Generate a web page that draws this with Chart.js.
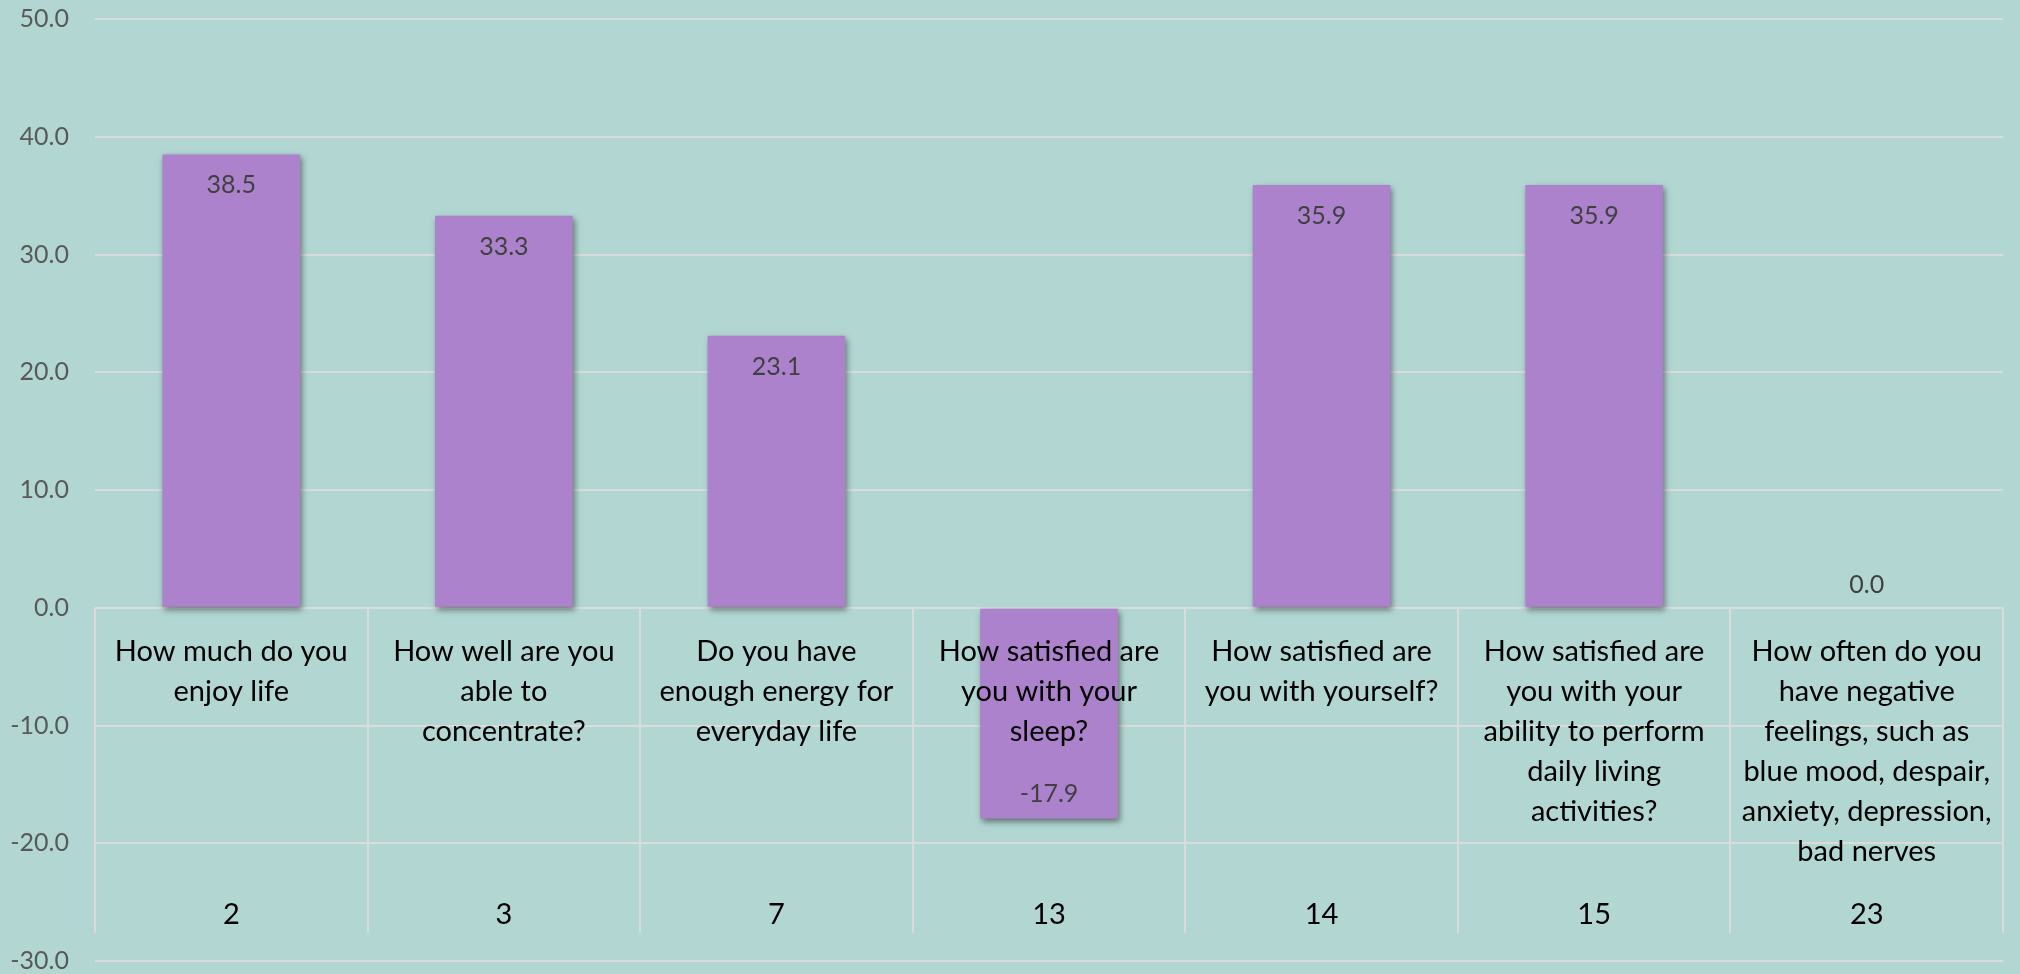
<!DOCTYPE html>
<html>
<head>
<meta charset="utf-8">
<script src="https://cdn.jsdelivr.net/npm/chart.js@4.4.1/dist/chart.umd.min.js"></script>
<style>
  html, body { margin: 0; padding: 0; background: #b2d7d3; }
  #wrap { width: 2020px; height: 974px; }
</style>
</head>
<body>
<div id="wrap"><canvas id="c" width="2020" height="974"></canvas></div>
<script>
// ---- data ----
const codes = ["2", "3", "7", "13", "14", "15", "23"];
const questions = [
  ["How much do you", "enjoy life"],
  ["How well are you", "able to", "concentrate?"],
  ["Do you have", "enough energy for", "everyday life"],
  ["How satisfied are", "you with your", "sleep?"],
  ["How satisfied are", "you with yourself?"],
  ["How satisfied are", "you with your", "ability to perform", "daily living", "activities?"],
  ["How often do you", "have negative", "feelings, such as", "blue mood, despair,", "anxiety, depression,", "bad nerves"]
];
const values = [38.5, 33.3, 23.1, -17.9, 35.9, 35.9, 0.0];
const yMin = -30, yMax = 50, yStep = 10;
const boxBottomValue = -27.6;

// ---- styles ----
const BG = '#b2d7d3';
const BAR = '#ac82cc';
const GRID = '#d9dcdb';
const FONT = 'Lato, "Open Sans", sans-serif';

const bgPlugin = {
  id: 'bg',
  beforeDraw(chart) {
    const ctx = chart.ctx;
    ctx.save();
    ctx.fillStyle = BG;
    ctx.fillRect(0, 0, chart.width, chart.height);
    ctx.restore();
  }
};

const shadowPlugin = {
  id: 'barShadow',
  beforeDatasetDraw(chart) {
    const ctx = chart.ctx;
    ctx.save();
    ctx.shadowColor = 'rgba(40,40,40,0.55)';
    ctx.shadowBlur = 6;
    ctx.shadowOffsetX = 2;
    ctx.shadowOffsetY = 3;
  },
  afterDatasetDraw(chart) {
    chart.ctx.restore();
  }
};

const boxPlugin = {
  id: 'categoryBox',
  beforeDatasetsDraw(chart) {
    const ctx = chart.ctx;
    const xs = chart.scales.x, ys = chart.scales.y;
    const y0 = ys.getPixelForValue(0);
    const yb = ys.getPixelForValue(boxBottomValue);
    const n = codes.length;
    ctx.save();
    ctx.strokeStyle = GRID;
    ctx.lineWidth = 2;
    for (let i = 0; i <= n; i++) {
      let x;
      if (i === 0) x = xs.left;
      else if (i === n) x = xs.right;
      else x = (xs.getPixelForValue(i - 1) + xs.getPixelForValue(i)) / 2;
      x = Math.round(x);
      ctx.beginPath();
      ctx.moveTo(x, y0);
      ctx.lineTo(x, yb);
      ctx.stroke();
    }
    ctx.restore();
  },
  afterDatasetsDraw(chart) {
    const ctx = chart.ctx;
    const xs = chart.scales.x, ys = chart.scales.y;
    const y0 = ys.getPixelForValue(0);
    const yb = ys.getPixelForValue(boxBottomValue);
    ctx.save();
    // data labels
    const meta = chart.getDatasetMeta(0);
    ctx.font = '25px ' + FONT;
    ctx.fillStyle = '#404040';
    ctx.textAlign = 'center';
    ctx.textBaseline = 'middle';
    meta.data.forEach((bar, i) => {
      const v = values[i];
      let y;
      if (v > 0) y = bar.y + 31;
      else if (v < 0) y = bar.y - 25;
      else y = bar.y - 23;
      ctx.fillText(v.toFixed(1), bar.x, y);
    });
    // category labels
    ctx.font = '29px ' + FONT;
    ctx.fillStyle = '#000000';
    questions.forEach((lines, i) => {
      const x = xs.getPixelForValue(i);
      lines.forEach((ln, j) => {
        ctx.fillText(ln, x, y0 + 44 + j * 40);
      });
      ctx.fillText(codes[i], x, yb - 18);
    });
    ctx.restore();
  }
};

new Chart(document.getElementById('c'), {
  type: 'bar',
  data: {
    labels: codes,
    datasets: [{
      data: values,
      backgroundColor: BAR,
      borderWidth: 0,
      barPercentage: 0.505,
      categoryPercentage: 1.0
    }]
  },
  options: {
    responsive: false,
    animation: false,
    events: [],
    layout: { padding: { top: 19, right: 17, bottom: 13, left: 0 } },
    plugins: { legend: { display: false }, tooltip: { enabled: false } },
    scales: {
      x: {
        display: false,
        grid: { display: false, drawTicks: false },
        border: { display: false },
        ticks: { display: false }
      },
      y: {
        min: yMin, max: yMax,
        afterFit(s) { s.width = 95; s.paddingTop = 0; s.paddingBottom = 0; },
        grid: { color: GRID, lineWidth: 2, drawTicks: false },
        border: { display: false },
        ticks: {
          stepSize: yStep,
          padding: 26,
          color: '#595959',
          font: { family: FONT, size: 25 },
          callback: v => Number(v).toFixed(1)
        }
      }
    }
  },
  plugins: [bgPlugin, boxPlugin, shadowPlugin]
});
</script>
</body>
</html>
